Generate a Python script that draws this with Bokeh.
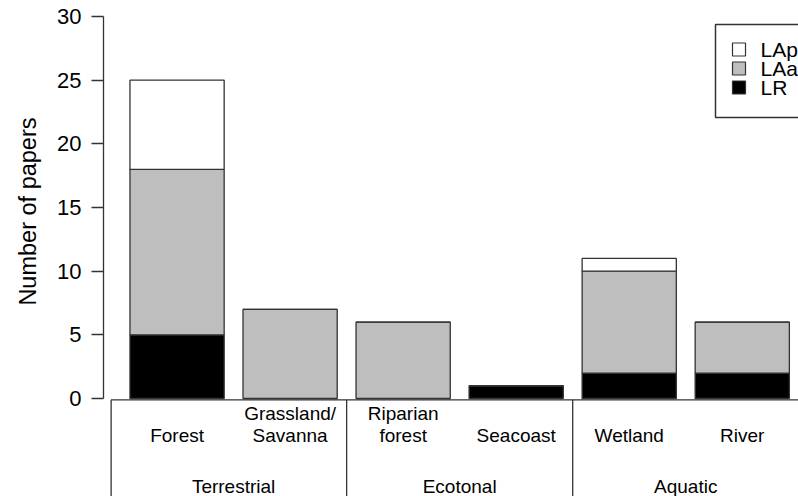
from bokeh.plotting import figure
from bokeh.models import (ColumnDataSource, LinearAxis, FixedTicker, Range1d,
                          Title)
from bokeh.embed import file_html
from bokeh.resources import INLINE
from bokeh.core.properties import value

# ---- data -------------------------------------------------------------
habitats = ["Forest", "Grassland/\nSavanna", "Riparian\nforest", "Seacoast", "Wetland", "River"]
groups = ["Terrestrial", "Terrestrial", "Ecotonal", "Ecotonal", "Aquatic", "Aquatic"]
lr = [5, 0, 0, 1, 2, 2]
laa = [13, 7, 6, 0, 8, 4]
lap = [7, 0, 0, 0, 1, 0]
series = ["LR", "LAa", "LAp"]
fills = ["black", "#bebebe", "white"]
y_ticks = [0, 5, 10, 15, 20, 25, 30]
y_title = "Number of papers"

# ---- layout (R barplot style: width 1, space 0.2) ----------------------
W, H = 798, 496
LEFT = 103                      # width of the left margin (axis panel)
BAR_W = 1.0
GAP = 0.2
FONT = "Liberation Sans"
INK = "#333333"
TITLE_HALF_LEN = 90             # half the drawn length of the y title, px

xr = Range1d(-0.081, 7.297)
yr = Range1d(-7.696, 31.257)


def sx_to_x(sx):
    """canvas pixel column -> data x"""
    return xr.start + (sx - LEFT) / (W - LEFT) * (xr.end - xr.start)


def sy_to_y(sy):
    """canvas pixel row -> data y"""
    return yr.end - sy / H * (yr.end - yr.start)


def y_to_sy(y):
    """data y -> canvas pixel row"""
    return (yr.end - y) / (yr.end - yr.start) * H


centers = [GAP * (i + 1) + BAR_W * i + BAR_W / 2 for i in range(len(habitats))]
src = ColumnDataSource(dict(x=centers, LR=lr, LAa=laa, LAp=lap))

p = figure(width=W, height=H, output_backend="svg", toolbar_location=None,
           x_range=xr, y_range=yr,
           x_axis_location=None, y_axis_location=None,
           min_border_left=LEFT, min_border_right=0, min_border_top=0,
           min_border_bottom=0)
p.outline_line_color = None
p.background_fill_color = "white"
p.border_fill_color = "white"
p.grid.grid_line_color = None

p.vbar_stack(series, x="x", width=BAR_W, source=src,
             fill_color=fills, line_color=INK, line_width=1.3)

# y axis spanning only 0..30
yaxis = LinearAxis(bounds=(min(y_ticks), max(y_ticks)),
                   ticker=FixedTicker(ticks=y_ticks))
yaxis.axis_line_color = INK
yaxis.axis_line_width = 1.3
yaxis.major_tick_line_color = INK
yaxis.major_tick_line_width = 1.3
yaxis.major_tick_out = 12
yaxis.major_tick_in = 0
yaxis.minor_tick_line_color = None
yaxis.major_label_standoff = 10
yaxis.major_label_text_font = FONT
yaxis.major_label_text_font_size = "22px"
yaxis.major_label_text_color = "black"
p.add_layout(yaxis, "left")

# axis title, anchored at its upper end so it is centred on the 0..30 span
mid_sy = y_to_sy((min(y_ticks) + max(y_ticks)) / 2)
p.add_layout(Title(text=y_title, align="right", vertical_align="top",
                   offset=mid_sy - TITLE_HALF_LEN, standoff=24,
                   text_font=FONT, text_font_size="23.5px",
                   text_font_style="normal", text_color="black"), "left")

# ---- category box below the bars --------------------------------------
left_edges = [c - BAR_W / 2 for c in centers]
right_edges = [c + BAR_W / 2 for c in centers]
box_left = left_edges[0] - GAP
box_right = right_edges[-1] + GAP
box_top = -0.1
box_bottom = -20

splits = [(right_edges[i] + left_edges[i + 1]) / 2
          for i in range(len(groups) - 1) if groups[i] != groups[i + 1]]
vx = [box_left] + splits
p.segment(x0=[box_left], y0=[box_top], x1=[box_right], y1=[box_top],
          line_color=INK, line_width=1.3)
p.segment(x0=vx, y0=[box_top] * len(vx), x1=vx, y1=[box_bottom] * len(vx),
          line_color=INK, line_width=1.3)

# habitat names, one or two lines each
lower = [h.split("\n")[-1] for h in habitats]
upper_x = [c for c, h in zip(centers, habitats) if "\n" in h]
upper = [h.split("\n")[0] for h in habitats if "\n" in h]
p.text(x=centers, y=[0] * len(centers), text=lower, y_offset=37,
       text_align="center", text_baseline="alphabetic",
       text_font=value(FONT), text_font_size="19px", text_color="black")
p.text(x=upper_x, y=[0] * len(upper_x), text=upper, y_offset=15,
       text_align="center", text_baseline="alphabetic",
       text_font=value(FONT), text_font_size="19px", text_color="black")

# group names centred under their bars
group_names = []
for g in groups:
    if g not in group_names:
        group_names.append(g)
group_x = [sum(c for c, gg in zip(centers, groups) if gg == g) /
           groups.count(g) for g in group_names]
p.text(x=group_x, y=[0] * len(group_x), text=group_names, y_offset=88,
       text_align="center", text_baseline="alphabetic",
       text_font=value(FONT), text_font_size="19px", text_color="black")

# ---- legend (R style: boxed, filled squares, top row = top of stack) ----
leg_labels = series[::-1]
leg_fills = fills[::-1]
row_sy = [49 + 19 * i for i in range(len(leg_labels))]
p.quad(left=[sx_to_x(715)], right=[sx_to_x(830)],
       top=[sy_to_y(24)], bottom=[sy_to_y(117)],
       fill_color="white", line_color=INK, line_width=1.5)
p.rect(x=[sx_to_x(738.5)] * len(row_sy), y=[sy_to_y(s) for s in row_sy],
       width=13, height=13, width_units="screen", height_units="screen",
       fill_color=leg_fills, line_color=INK, line_width=1.2)
p.text(x=[sx_to_x(760)] * len(row_sy), y=[sy_to_y(s) for s in row_sy],
       text=leg_labels, text_align="left", text_baseline="middle",
       text_font=value(FONT), text_font_size="21px", text_color="black")

open("out.html", "w").write(file_html(p, INLINE))
